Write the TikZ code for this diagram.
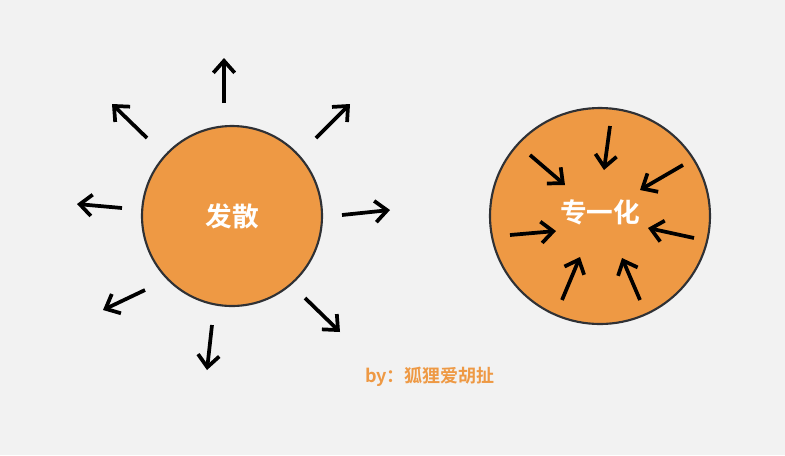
\documentclass[tikz,border=0pt]{standalone}
\usepackage{fontspec}
\newfontfamily\cjk{Noto Sans CJK SC Bold}
\usetikzlibrary{arrows.meta}
\definecolor{bg}{HTML}{F2F2F2}
\definecolor{org}{HTML}{EE9944}
\definecolor{rim}{HTML}{2F3135}
\tikzset{arr/.style={line width=2.8pt,-{Straight Barb[length=9pt,width=16pt,line width=2.8pt]}},
 ball/.style={fill=org,draw=rim,line width=1.6pt},
 lbl/.style={text=white,font=\cjk\fontsize{20}{24}\selectfont}}
\begin{document}
\begin{tikzpicture}[x=0.75pt,y=-0.75pt]
\fill[bg] (0,0) rectangle (785,455);
\useasboundingbox (0,0) rectangle (785,455);
\draw[ball] (232,216) circle[radius=90];
\draw[ball] (600,216) ellipse[x radius=110,y radius=108];
\node[lbl] (a) at (232,216) {发散};
\node[lbl] (b) at (600,212) {专一化};
\node[text=org,font=\cjk\fontsize{13.5}{16}\selectfont] (c) at (430,377) {by：狐狸爱胡扯};
% outward
\foreach \i/\sx/\sy/\ex/\ey in {1/224/103/224/58,2/147/138/112/104,3/316/138/350/104,4/122/208/77/204,5/342/215/390/210,6/145/290/103/310,7/212/325/207/370,8/305/298/340/332}{
 \coordinate (s\i) at (\sx,\sy); \coordinate (e\i) at (\ex,\ey);
 \draw[arr] (s\i) -- (e\i);}
% inward
\foreach \i/\sx/\sy/\ex/\ey in {1/610/126/604/170,2/530/155/565/185,3/683/165/640/190,4/510/235/556/231,5/694/238/648/228,6/562/300/580/257,7/640/300/622/258}{
 \coordinate (p\i) at (\sx,\sy); \coordinate (q\i) at (\ex,\ey);
 \draw[arr] (p\i) -- (q\i);}
\end{tikzpicture}
\end{document}
